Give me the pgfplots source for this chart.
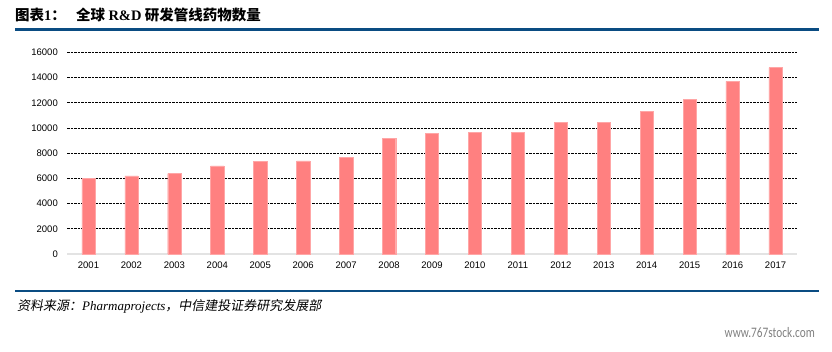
\documentclass[border=0pt]{standalone}
\usepackage{pgfplots}
\pgfplotsset{compat=1.18}
\usepackage{fontspec}
\setmainfont{Liberation Sans}
\newfontfamily\cjk{Noto Sans CJK SC}
\newfontfamily\cjkit[FakeSlant=0.18]{Noto Sans CJK SC}
\newfontfamily\timesf{Liberation Serif}
\newfontfamily\wm{Carlito}
\definecolor{barcol}{RGB}{255,128,128}
\definecolor{navy}{RGB}{10,76,130}
\definecolor{wmgray}{RGB}{128,128,128}
\begin{document}
\begin{tikzpicture}[x=1bp,y=1bp]
\useasboundingbox (0,0) rectangle (832,351);
% title
\node[anchor=base west, inner sep=0pt] at (15,331) {\fontsize{14.5bp}{16bp}\selectfont{\cjk\bfseries 图表}{\timesf\bfseries 1}{\cjk\bfseries ：}};
\node[anchor=base west, inner sep=0pt] at (76,331) {\fontsize{14.5bp}{16bp}\selectfont{\cjk\bfseries 全球 }{\timesf\bfseries R\&D}{\cjk\bfseries\ 研发管线药物数量}};
\draw[navy, line width=3bp] (15,321.7) -- (819,321.7);
\draw[navy, line width=2.5bp] (15,60) -- (819,60);
\node[anchor=base west, inner sep=0pt] at (17,40.5) {\fontsize{13bp}{15bp}\selectfont{\cjkit 资料来源：}{\timesf\itshape Pharmaprojects}{\cjkit ，中信建投证券研究发展部}};
\node[anchor=base east, inner sep=0pt, text=wmgray] at (815,13.7) {\scalebox{0.78}[1]{\fontsize{14.5bp}{16bp}\selectfont\wm www.767stock.com}};
\begin{axis}[
  at={(67bp,97bp)}, anchor=south west,
  scale only axis, width=730bp, height=201.6bp,
  xmin=-0.5, xmax=16.5, ymin=0, ymax=16000,
  axis x line*=bottom, axis y line*=left,
  x axis line style={draw=gray!22, line width=1.8bp, -},
  y axis line style={draw=none},
  major tick length=0pt,
  xtick=data,
  xticklabels={2001,2002,2003,2004,2005,2006,2007,2008,2009,2010,2011,2012,2013,2014,2015,2016,2017},
  ytick={0,2000,...,16000},
  scaled y ticks=false,
  ymajorgrids,
  grid style={black, dash pattern=on 2.5bp off 1bp, line width=0.9bp},
  /pgf/number format/1000 sep={},
  /pgf/number format/assume math mode=true,
  tick label style={font=\fontsize{9.5bp}{11bp}\selectfont, inner sep=0pt},
  yticklabel style={anchor=east, xshift=-9bp},
  xticklabel style={anchor=north, yshift=-8bp},
  ybar, bar width=13.3bp,
  clip=false,
]
\addplot[fill=barcol, draw=barcol!70!white, line width=0.4bp, bar shift=0pt] coordinates {
(0,5995) (1,6200) (2,6380) (3,6990) (4,7350) (5,7400) (6,7680)
(7,9180) (8,9600) (9,9680) (10,9680) (11,10450) (12,10450)
(13,11300) (14,12300) (15,13700) (16,14800)
};
\end{axis}
\end{tikzpicture}
\end{document}
